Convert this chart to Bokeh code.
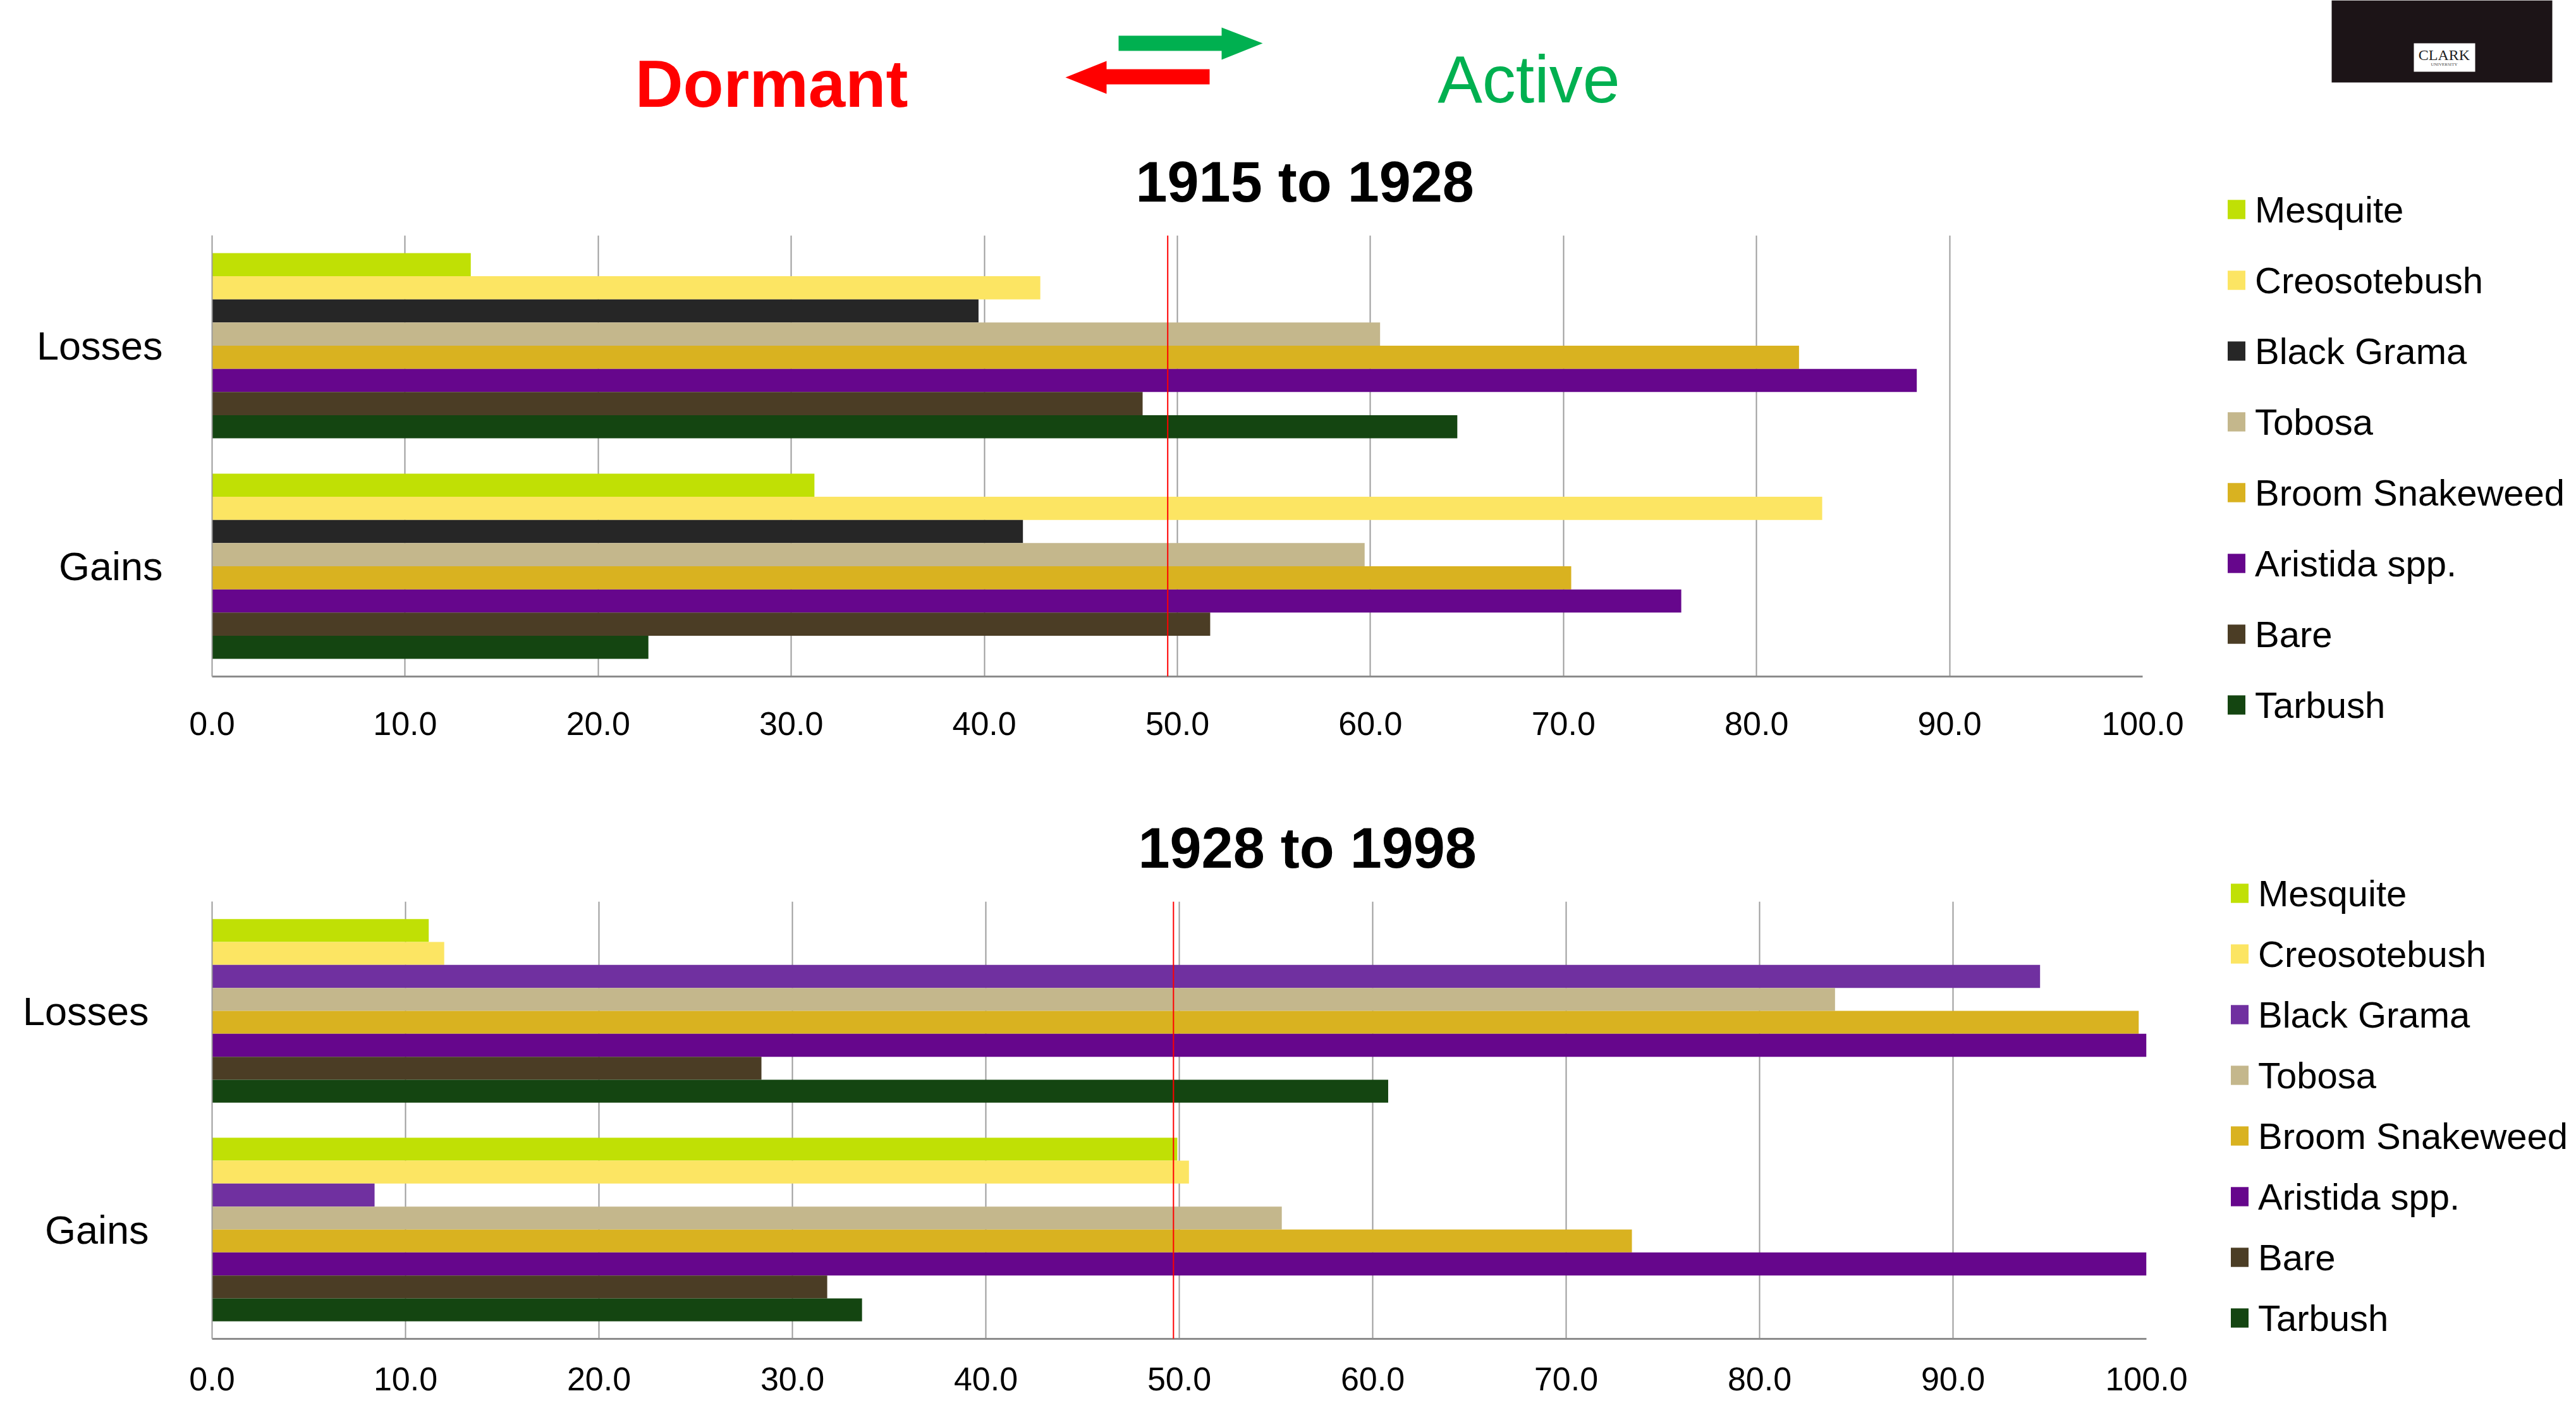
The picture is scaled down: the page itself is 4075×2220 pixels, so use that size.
from bokeh.plotting import figure
from bokeh.models import (ColumnDataSource, FactorRange, Range1d, FixedTicker,
                          PrintfTickFormatter, Legend, LegendItem, Span)
from bokeh.transform import dodge
from bokeh.layouts import column, row
from bokeh.core.properties import value
from bokeh.embed import file_html
from bokeh.resources import INLINE

FONT = "Liberation Sans"

# ---------------- data ----------------
categories = ["Losses", "Gains"]
species = ["Mesquite", "Creosotebush", "Black Grama", "Tobosa",
           "Broom Snakeweed", "Aristida spp.", "Bare", "Tarbush"]

colors_1915_1928 = ["#C0E005", "#FCE563", "#262626", "#C4B78C",
                    "#D9B220", "#66068C", "#4B3D25", "#144511"]
colors_1928_1998 = ["#C0E005", "#FCE563", "#7030A0", "#C4B78C",
                    "#D9B220", "#66068C", "#4B3D25", "#144511"]

losses_1915_1928 = [13.4, 42.9, 39.7, 60.5, 82.2, 88.3, 48.2, 64.5]
gains_1915_1928 = [31.2, 83.4, 42.0, 59.7, 70.4, 76.1, 51.7, 22.6]
losses_1928_1998 = [11.2, 12.0, 94.5, 83.9, 99.6, 100.0, 28.4, 60.8]
gains_1928_1998 = [49.9, 50.5, 8.4, 55.3, 73.4, 100.0, 31.8, 33.6]

x_ticks = [0, 10, 20, 30, 40, 50, 60, 70, 80, 90, 100]
threshold_1915_1928 = 49.5
threshold_1928_1998 = 49.7

title_1915_1928 = "1915 to 1928"
title_1928_1998 = "1928 to 1998"

# ---------------- layout constants ----------------
PAGE_W = 4075
CHART_W = 3500
LEGEND_W = PAGE_W - CHART_W
BAR_H = 0.105
GRID_COLOR = "#9C9C9C"
LEFT = 335


def make_chart(title, losses, gains, colors, threshold, height, b_top,
               b_bottom, frame_w, title_offset, ylabel_standoff,
               xlabel_standoff):
    p = figure(width=CHART_W, height=height,
               y_range=FactorRange(factors=["Gains", "Losses"]),
               x_range=Range1d(0, 100),
               output_backend="svg", toolbar_location=None,
               min_border_left=LEFT, min_border_right=CHART_W - LEFT - frame_w,
               min_border_top=b_top, min_border_bottom=b_bottom,
               title=title, frame_align=False)
    p.outline_line_color = None
    p.background_fill_color = "white"
    p.border_fill_color = "white"

    p.title.text_font = FONT
    p.title.text_font_size = "90px"
    p.title.text_font_style = "bold"
    p.title.text_color = "black"
    p.title.align = "left"
    p.title.offset = title_offset
    p.title.standoff = 70

    for i, col in enumerate(colors):
        src = ColumnDataSource(dict(cat=categories, val=[losses[i], gains[i]]))
        p.hbar(y=dodge("cat", (3.5 - i) * BAR_H, range=p.y_range),
               left=0, right="val", height=BAR_H,
               fill_color=col, line_color=None, source=src)

    p.add_layout(Span(location=threshold, dimension="height",
                      line_color="#FF0000", line_width=2))

    # x axis
    p.xaxis.ticker = FixedTicker(ticks=x_ticks)
    p.xaxis.formatter = PrintfTickFormatter(format="%.1f")
    p.xaxis.major_label_text_font = FONT
    p.xaxis.major_label_text_font_size = "52px"
    p.xaxis.major_label_text_color = "black"
    p.xaxis.major_tick_line_color = None
    p.xaxis.minor_tick_line_color = None
    p.xaxis.major_tick_out = 0
    p.xaxis.major_tick_in = 0
    p.xaxis.major_label_standoff = xlabel_standoff
    p.xaxis.axis_line_color = "#8C8C8C"
    p.xaxis.axis_line_width = 3

    p.xgrid.ticker = FixedTicker(ticks=x_ticks)
    p.xgrid.grid_line_color = GRID_COLOR
    p.xgrid.grid_line_width = 2
    p.ygrid.grid_line_color = None

    # y axis
    p.yaxis.major_label_text_font = FONT
    p.yaxis.major_label_text_font_size = "63px"
    p.yaxis.major_label_text_color = "black"
    p.yaxis.major_tick_line_color = None
    p.yaxis.major_tick_out = 0
    p.yaxis.major_tick_in = 0
    p.yaxis.major_label_standoff = ylabel_standoff
    p.yaxis.axis_line_color = GRID_COLOR
    p.yaxis.axis_line_width = 2
    return p


def make_legend(colors, height, legend_loc, legend_spacing):
    lf = figure(width=LEGEND_W, height=height, x_range=Range1d(0, 1),
                y_range=Range1d(0, 1), output_backend="svg",
                toolbar_location=None, min_border=0,
                min_border_left=0, min_border_right=0,
                min_border_top=0, min_border_bottom=0,
                x_axis_type=None, y_axis_type=None, frame_align=False)
    lf.outline_line_color = None
    lf.grid.visible = False
    items = []
    for sp, col in zip(species, colors):
        # swatch-only renderer: a zero-width bar outside the visible range
        src = ColumnDataSource(dict(y=[-5], right=[0]))
        r = lf.hbar(y="y", right="right", left=0, height=0.01,
                    fill_color=col, line_color=None, source=src)
        items.append(LegendItem(label=sp, renderers=[r]))
    legend = Legend(items=items, location=legend_loc, orientation="vertical",
                    glyph_width=35, glyph_height=38, label_height=70,
                    label_text_font=FONT, label_text_font_size="58px",
                    label_text_color="black",
                    label_standoff=12, spacing=legend_spacing,
                    padding=0, margin=0, border_line_color=None,
                    background_fill_alpha=0)
    lf.add_layout(legend)
    return lf


# ---------------- header ----------------
h = figure(width=PAGE_W, height=200, x_range=Range1d(0, PAGE_W),
           y_range=Range1d(200, 0), output_backend="svg",
           toolbar_location=None, min_border=0,
           min_border_left=0, min_border_right=0,
           min_border_top=0, min_border_bottom=0,
           x_axis_type=None, y_axis_type=None, frame_align=False)
h.outline_line_color = None
h.grid.visible = False

h.text(x=[1220], y=[132], text=["Dormant"], text_font=value(FONT),
       text_font_size="105px", text_font_style="bold", text_color="#FF0000",
       text_align="center", text_baseline="middle")
h.text(x=[2418], y=[124], text=["Active"], text_font=value(FONT),
       text_font_size="106px", text_color="#00B050",
       text_align="center", text_baseline="middle")

# arrows
h.patch(x=[1769, 1932, 1932, 1997, 1932, 1932, 1769],
        y=[56, 56, 43, 68, 94, 80, 80], color="#00B050", line_color=None)
h.patch(x=[1685, 1750, 1750, 1913, 1913, 1750, 1750],
        y=[122, 96, 109, 109, 133, 133, 148], color="#FF0000", line_color=None)

# logo
h.quad(left=[3688], right=[4037], top=[0], bottom=[130],
       color="#1C1417", line_color=None)
h.quad(left=[3818], right=[3915], top=[68], bottom=[113],
       color="white", line_color=None)
h.text(x=[3866], y=[86], text=["CLARK"], text_font=value("Liberation Serif"),
       text_font_size="24px", text_color="#222222",
       text_align="center", text_baseline="middle")
h.text(x=[3866], y=[101], text=["UNIVERSITY"],
       text_font=value("Liberation Serif"), text_font_size="7px",
       text_color="#444444", text_align="center", text_baseline="middle")

# ---------------- charts ----------------
top = make_chart(title_1915_1928, losses_1915_1928, gains_1915_1928,
                 colors_1915_1928, threshold_1915_1928, height=1035,
                 b_top=170, b_bottom=165, frame_w=3054, title_offset=1461,
                 ylabel_standoff=78, xlabel_standoff=56)
top_legend = make_legend(colors_1915_1928, height=1035,
                         legend_loc=(20, 85), legend_spacing=42)

bottom = make_chart(title_1928_1998, losses_1928_1998, gains_1928_1998,
                    colors_1928_1998, threshold_1928_1998, height=985,
                    b_top=191, b_bottom=102, frame_w=3060, title_offset=1465,
                    ylabel_standoff=100, xlabel_standoff=45)
bottom_legend = make_legend(colors_1928_1998, height=985,
                            legend_loc=(25, 100), legend_spacing=26)

layout = column(h, row(top, top_legend), row(bottom, bottom_legend))
open("out.html", "w").write(file_html(layout, INLINE))
